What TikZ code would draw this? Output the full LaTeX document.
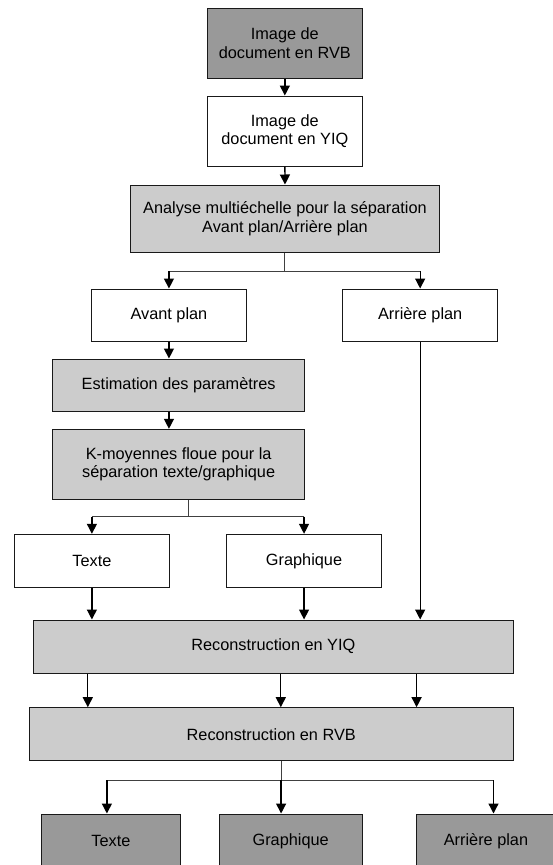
\documentclass[tikz,border=0pt]{standalone}
\usepackage{fontspec}
\setmainfont{Liberation Sans}
\usetikzlibrary{arrows.meta}

\newlength{\du}
\setlength{\du}{1pt}

\definecolor{darkfill}{rgb}{0.600000, 0.600000, 0.600000}
\definecolor{lightfill}{rgb}{0.800000, 0.800000, 0.800000}
\definecolor{edgecolor}{rgb}{0.100000, 0.100000, 0.100000}

\tikzset{
  stepbox/.style={draw=edgecolor, line width=1\du, inner sep=0pt, align=center,
    font=\fontsize{16.3}{18.4}\selectfont},
  darkbox/.style={stepbox, fill=darkfill},
  lightbox/.style={stepbox, fill=lightfill},
  whitebox/.style={stepbox, fill=white},
  flow/.style={line width=1.3\du, -{Triangle[width=10pt,length=10pt]}},
  split/.style={line width=0.9\du, draw=black!75},
}

\begin{document}
\begin{tikzpicture}
\pgftransformxscale{1.000000}
\pgftransformyscale{-1.000000}
\useasboundingbox (0\du,0\du) rectangle (553\du,865\du);
% top of the chain
\node[darkbox, minimum width=154.9\du, minimum height=70\du] (rvb) at (284.850000\du,43.300000\du){Image de\\document en RVB};
\node[whitebox, minimum width=154.9\du, minimum height=70\du] (yiq) at (284.850000\du,131.000000\du){Image de\\document en YIQ};
\node[lightbox, minimum width=309\du, minimum height=67.3\du] (analyse) at (285.000000\du,218.650000\du){Analyse multiéchelle pour la séparation\\Avant plan/Arrière plan};
\node[whitebox, minimum width=154.5\du, minimum height=52.3\du] (avant) at (168.950000\du,315.150000\du){Avant plan};
\node[whitebox, minimum width=154.5\du, minimum height=52.3\du] (arriere) at (420.150000\du,315.150000\du){Arrière plan};
% foreground branch
\node[lightbox, minimum width=251.5\du, minimum height=52.3\du] (estim) at (178.650000\du,385.150000\du){Estimation des paramètres};
\node[lightbox, minimum width=251.5\du, minimum height=70\du] (kmoy) at (178.650000\du,464.300000\du){K-moyennes floue pour la\\séparation texte/graphique};
\node[whitebox, minimum width=154.8\du, minimum height=53\du] (texte) at (91.900000\du,560.800000\du){Texte};
\node[whitebox, minimum width=154.5\du, minimum height=53\du] (graph) at (304.050000\du,560.800000\du){Graphique};
% reconstruction
\node[lightbox, minimum width=479.7\du, minimum height=53\du] (recyiq) at (273.350000\du,646.500000\du){Reconstruction en YIQ};
\node[lightbox, minimum width=483.9\du, minimum height=53\du] (recrvb) at (271.250000\du,734.200000\du){Reconstruction en RVB};
% outputs
\node[darkbox, minimum width=139.3\du, minimum height=54\du] (otexte) at (110.950000\du,841.000000\du){Texte};
\node[darkbox, minimum width=143.3\du, minimum height=54\du] (ograph) at (290.650000\du,841.000000\du){Graphique};
\node[darkbox, minimum width=140\du, minimum height=54\du] (oarr) at (486.000000\du,841.000000\du){Arrière plan};

\coordinate (sA) at (284.700000\du,271.000000\du);
\coordinate (sK) at (188.400000\du,516.700000\du);
\coordinate (sR) at (281.100000\du,780.000000\du);
\coordinate (sRl) at (106.900000\du,780.000000\du);
\coordinate (sRr) at (493.500000\du,780.000000\du);

\draw[flow] (rvb.south) -- (yiq.north);
\draw[flow] (yiq.south) -- (analyse.north);
\draw[split] (analyse.south -| sA) -- (sA);
\draw[split] (sA -| avant.north) -- (sA -| arriere.north);
\draw[flow] (sA -| avant.north) -- (avant.north);
\draw[flow] (sA -| arriere.north) -- (arriere.north);
\draw[flow] (avant.south) -- (avant.south |- estim.north);
\draw[flow] (avant.south |- estim.south) -- (avant.south |- kmoy.north);
\draw[split] (kmoy.south -| sK) -- (sK);
\draw[split] (sK -| texte.north) -- (sK -| graph.north);
\draw[flow] (sK -| texte.north) -- (texte.north);
\draw[flow] (sK -| graph.north) -- (graph.north);
\draw[flow] (texte.south) -- (texte.south |- recyiq.north);
\draw[flow] (graph.south) -- (graph.south |- recyiq.north);
\draw[flow] (arriere.south) -- (arriere.south |- recyiq.north);
\foreach \x in {87.8,280.8,416.6}
  \draw[flow] (recyiq.south -| \x\du,0) -- (recrvb.north -| \x\du,0);
\draw[split] (recrvb.south -| sR) -- (sR);
\draw[split] (sRl) -- (sRr);
\draw[flow] (sR) -- (ograph.north -| sR);
\draw[flow] (sRl) -- (sRl |- otexte.north);
\draw[flow] (sRr) -- (sRr |- oarr.north);
\end{tikzpicture}
\end{document}
